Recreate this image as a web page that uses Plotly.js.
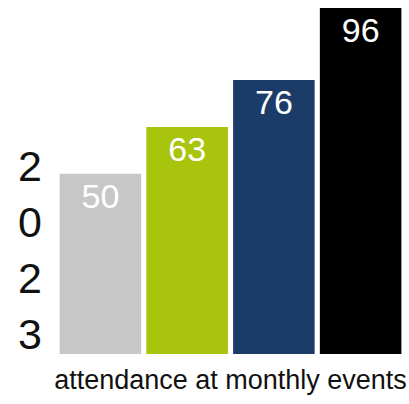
<!DOCTYPE html>
<html>
<head>
<meta charset="utf-8">
<script src="https://cdn.plot.ly/plotly-3.0.1.min.js"></script>
<style>
  html, body { margin: 0; padding: 0; background: #ffffff; }
  #chart { width: 409px; height: 404px; }
</style>
</head>
<body>
<div id="chart"></div>
<script>
// Data
const categories = ["A", "B", "C", "D"];
const values = [50, 63, 76, 96];
const barColors = ["#c8c7c8", "#a8c40d", "#1b3c69", "#000000"];
const xTitle = "attendance at monthly events";
const yTitleChars = ["2", "0", "2", "3"];

const trace = {
  type: "bar",
  x: categories,
  y: values,
  text: values.map(String),
  textposition: "inside",
  insidetextanchor: "end",
  constraintext: "none",
  textfont: { family: "Liberation Sans, Arial, sans-serif", size: 34, color: "#ffffff" },
  marker: { color: barColors, line: { width: 0 } },
  hoverinfo: "skip"
};

const layout = {
  width: 409,
  height: 404,
  margin: { l: 57, r: 5, t: 8, b: 50 },
  paper_bgcolor: "#ffffff",
  plot_bgcolor: "#ffffff",
  bargap: 0.06,
  showlegend: false,
  font: { family: "Liberation Sans, Arial, sans-serif", color: "#111111" },
  xaxis: {
    showticklabels: false,
    ticks: "",
    showgrid: false,
    zeroline: false,
    showline: false,
    title: { text: xTitle, font: { size: 27, color: "#111111" }, standoff: 16 }
  },
  yaxis: {
    range: [0, 96],
    showticklabels: false,
    ticks: "",
    showgrid: false,
    zeroline: false,
    showline: false
  },
  annotations: [{
    xref: "paper", yref: "paper",
    x: -0.078, y: 0.30,
    xanchor: "center", yanchor: "middle",
    text: yTitleChars.join("<br>"),
    showarrow: false,
    font: { family: "Liberation Sans, Arial, sans-serif", size: 43, color: "#111111" }
  }]
};

Plotly.newPlot("chart", [trace], layout, { displayModeBar: false, staticPlot: true });
</script>
</body>
</html>
